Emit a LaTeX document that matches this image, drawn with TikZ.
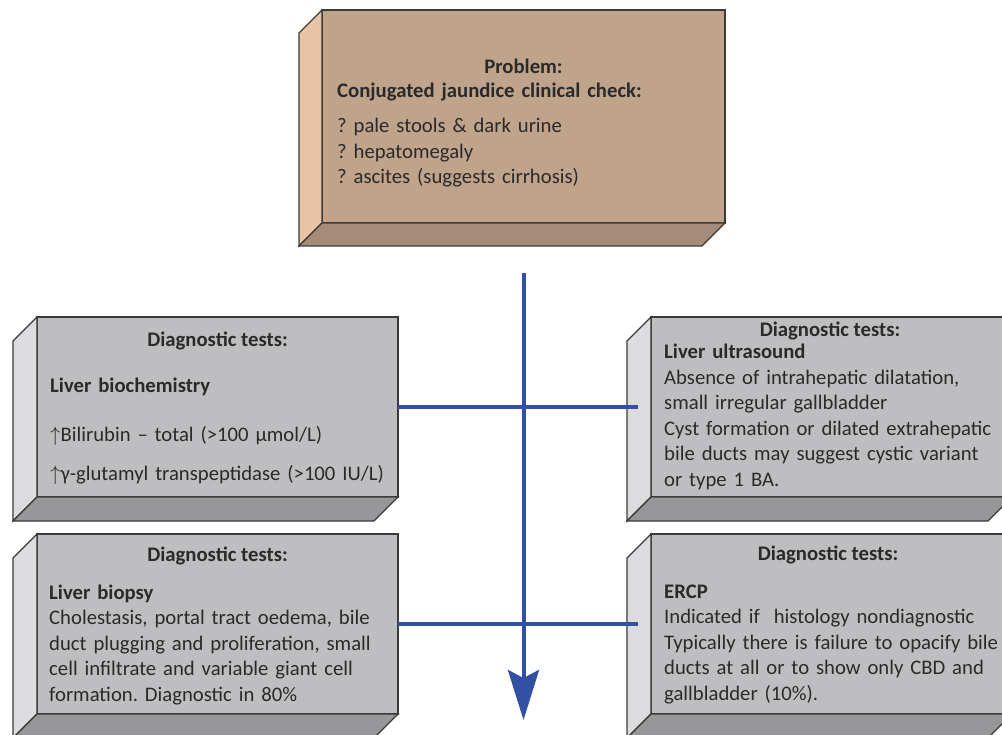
\documentclass[tikz,border=0pt]{standalone}
\usepackage{fontspec}
\setmainfont{Carlito}
\usepackage{tikz}
\usetikzlibrary{
    arrows.meta,
    calc,
    positioning
}
\definecolor{tanfront}{HTML}{C0A38B}
\definecolor{tanside}{HTML}{E8C3A4}
\definecolor{tanbottom}{HTML}{A68B78}
\definecolor{greyfront}{HTML}{BEBEC1}
\definecolor{greyside}{HTML}{DCDCDF}
\definecolor{greybottom}{HTML}{97979A}
\definecolor{rimgrey}{HTML}{3A3A3A}
\definecolor{inkgrey}{HTML}{2A2A2A}
\definecolor{flowblue}{HTML}{3251A2}
\tikzset{
    face/.style={draw=rimgrey, line width=1.2pt, outer sep=0pt, inner sep=0pt},
    rim/.style={draw=rimgrey, line width=1.2pt, line join=miter},
    title/.style={font=\bfseries, text=inkgrey, anchor=base, inner sep=0pt},
    body/.style={text=inkgrey, anchor=base west, inner sep=0pt, align=left, text width=350pt},
    flow/.style={draw=flowblue, line width=4pt}
}
% side and bottom of a raised block, #1 = front face node
\newcommand{\slab}[4]{
    \draw[rim, fill=#3] (#1.north west) -- ++(-#2, #2) -- ($(#1.south west) + (-#2, #2)$) -- (#1.south west) -- cycle;
    \draw[rim, fill=#4] (#1.south west) -- (#1.south east) -- ++(-#2, #2) -- ($(#1.south west) + (-#2, #2)$) -- cycle;
}
\frenchspacing
\begin{document}
\fontsize{20.7}{25.5}\selectfont
\begin{tikzpicture}[x=1pt, y=-1pt]
    \useasboundingbox (0, 0) rectangle (1002, 735);
    \clip (0, 0) rectangle (1002, 735);

    % blocks
    \node (prob) [face, fill=tanfront, minimum width=403pt, minimum height=213pt] at (523.5, 116.5) {};
    \slab{prob}{23}{tanside}{tanbottom}
    \node (l1) [face, fill=greyfront, minimum width=361pt, minimum height=180pt] at (217.5, 407) {};
    \slab{l1}{24}{greyside}{greybottom}
    \node (r1) [face, fill=greyfront, minimum width=361pt, minimum height=180pt] at (831.5, 407) {};
    \slab{r1}{24}{greyside}{greybottom}
    \node (l2) [face, fill=greyfront, minimum width=361pt, minimum height=180pt] at (217.5, 624) {};
    \slab{l2}{24}{greyside}{greybottom}
    \node (r2) [face, fill=greyfront, minimum width=361pt, minimum height=180pt] at (831.5, 624) {};
    \slab{r2}{24}{greyside}{greybottom}

    % texts
    \node (probt) [title] at ($(prob.north) + (0, 64)$) {Problem:};
    \node (probb) [body] at (337, 98) {\textbf{Conjugated jaundice clinical check:}\\[9.5pt]
        ? pale stools \& dark urine\\
        ? hepatomegaly\\
        ? ascites (suggests cirrhosis)};

    \node (l1t) [title] at ($(l1.north) + (0, 30)$) {Diagnostic tests:};
    \node (l1b) [body] at (50, 393) {\textbf{Liver biochemistry}\\[23pt]
        $\uparrow$Bilirubin – total (>100 µmol/L)\\[13.5pt]
        $\uparrow$γ-glutamyl transpeptidase (>100 IU/L)};

    \node (r1t) [title] at (830, 337) {Diagnostic tests:};
    \node (r1b) [body] at (664, 359) {\textbf{Liver ultrasound}\\
        Absence of intrahepatic dilatation,\\
        small irregular gallbladder\\
        Cyst formation or dilated extrahepatic\\
        bile ducts may suggest cystic variant\\
        or type 1 BA.};

    \node (l2t) [title] at ($(l2.north) + (0, 27)$) {Diagnostic tests:};
    \node (l2b) [body] at (49, 599) {\textbf{Liver biopsy}\\
        Cholestasis, portal tract oedema, bile\\
        duct plugging and proliferation, small\\
        cell infiltrate and variable giant cell\\
        formation. Diagnostic in 80\%};

    \node (r2t) [title] at (828, 560) {Diagnostic tests:};
    \node (r2b) [body] at (664, 598) {\textbf{ERCP}\\
        Indicated if\ \ histology nondiagnostic\\
        Typically there is failure to opacify bile\\
        ducts at all or to show only CBD and\\
        gallbladder (10\%).};

    % flow
    \coordinate (stem) at ($(prob.south) + (0, 50)$);
    \coordinate (flowend) at ($(l2.south -| stem) + (0, 6)$);
    \draw[flow, shorten >=13pt] (l1.east) -- (r1.west);
    \draw[flow, shorten >=13pt] (l2.east) -- (r2.west);
    \draw[flow, -{Stealth[length=50pt, width=31pt, inset=8pt]}] (stem) -- (flowend);
\end{tikzpicture}
\end{document}
